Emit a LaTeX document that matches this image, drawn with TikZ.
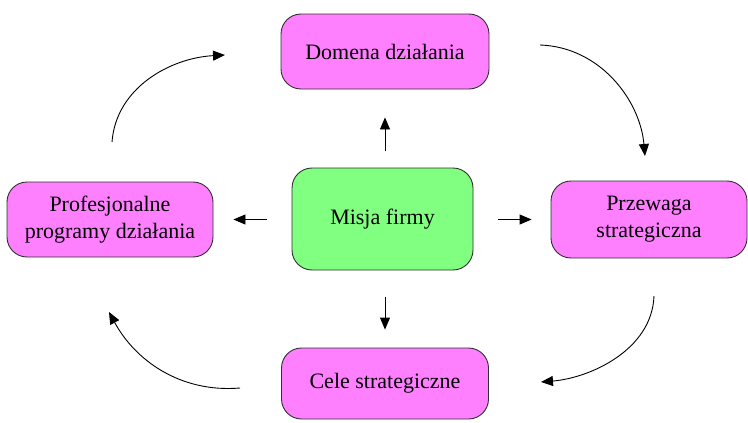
\documentclass[tikz,border=0pt]{standalone}
\usepackage{fontspec}
\setmainfont{Liberation Serif}
\usetikzlibrary{arrows.meta}
\definecolor{pinkbox}{HTML}{FF80FF}
\definecolor{greenbox}{HTML}{80FF80}
\definecolor{edge}{HTML}{303030}
\tikzset{
  box/.style={draw=edge, line width=0.9pt, rounded corners=20pt, align=center,
    inner sep=0pt, font=\fontsize{22}{27}\selectfont},
  pinkbox/.style={box, fill=pinkbox},
  greenbox/.style={box, fill=greenbox},
  arr/.style={-{Triangle[length=12pt,width=10pt]}, line width=0.9pt, black},
}
\begin{document}
\begin{tikzpicture}[x=1pt, y=-1pt]
  \useasboundingbox (0,0) rectangle (748,423);

  % boxes
  \node[pinkbox, minimum width=208pt, minimum height=75pt] (domena) at (385,51.5) {Domena działania};
  \node[greenbox, minimum width=181pt, minimum height=102pt] (misja) at (382.5,219) {Misja firmy};
  \node[pinkbox, minimum width=196pt, minimum height=77pt] (przewaga) at (649,219.5) {Przewaga\\strategiczna};
  \node[pinkbox, minimum width=206pt, minimum height=75pt] (prof) at (110,219.5) {Profesjonalne\\programy działania};
  \node[pinkbox, minimum width=207pt, minimum height=71pt] (cele) at (385,383.5) {Cele strategiczne};

  % short straight arrows from the centre
  \draw[arr, shorten <=17pt, shorten >=28pt] (misja.north -| domena.south) -- (domena.south);
  \draw[arr, shorten <=25pt, shorten >=20pt] (misja.west |- prof.east) -- (prof.east);
  \draw[arr, shorten <=25pt, shorten >=19pt] (misja.east |- przewaga.west) -- (przewaga.west);
  \draw[arr, shorten <=27pt, shorten >=18pt] (misja.south -| cele.north) -- (cele.north);

  % cycle around the centre
  \coordinate (trS) at (540,45);   \coordinate (trE) at (645,156);
  \coordinate (brS) at (654,296);  \coordinate (brE) at (541,382);
  \coordinate (blS) at (240,388);  \coordinate (blE) at (109,312);
  \coordinate (tlS) at (112,142);  \coordinate (tlE) at (225,55);

  \draw[arr] (trS) .. controls (600,47) and (640,100) .. (trE);
  \draw[arr] (brS) .. controls (652,350) and (590,378) .. (brE);
  \draw[arr] (blS) .. controls (180,393) and (135,360) .. (blE);
  \draw[arr] (tlS) .. controls (116,88) and (170,58) .. (tlE);
\end{tikzpicture}
\end{document}
